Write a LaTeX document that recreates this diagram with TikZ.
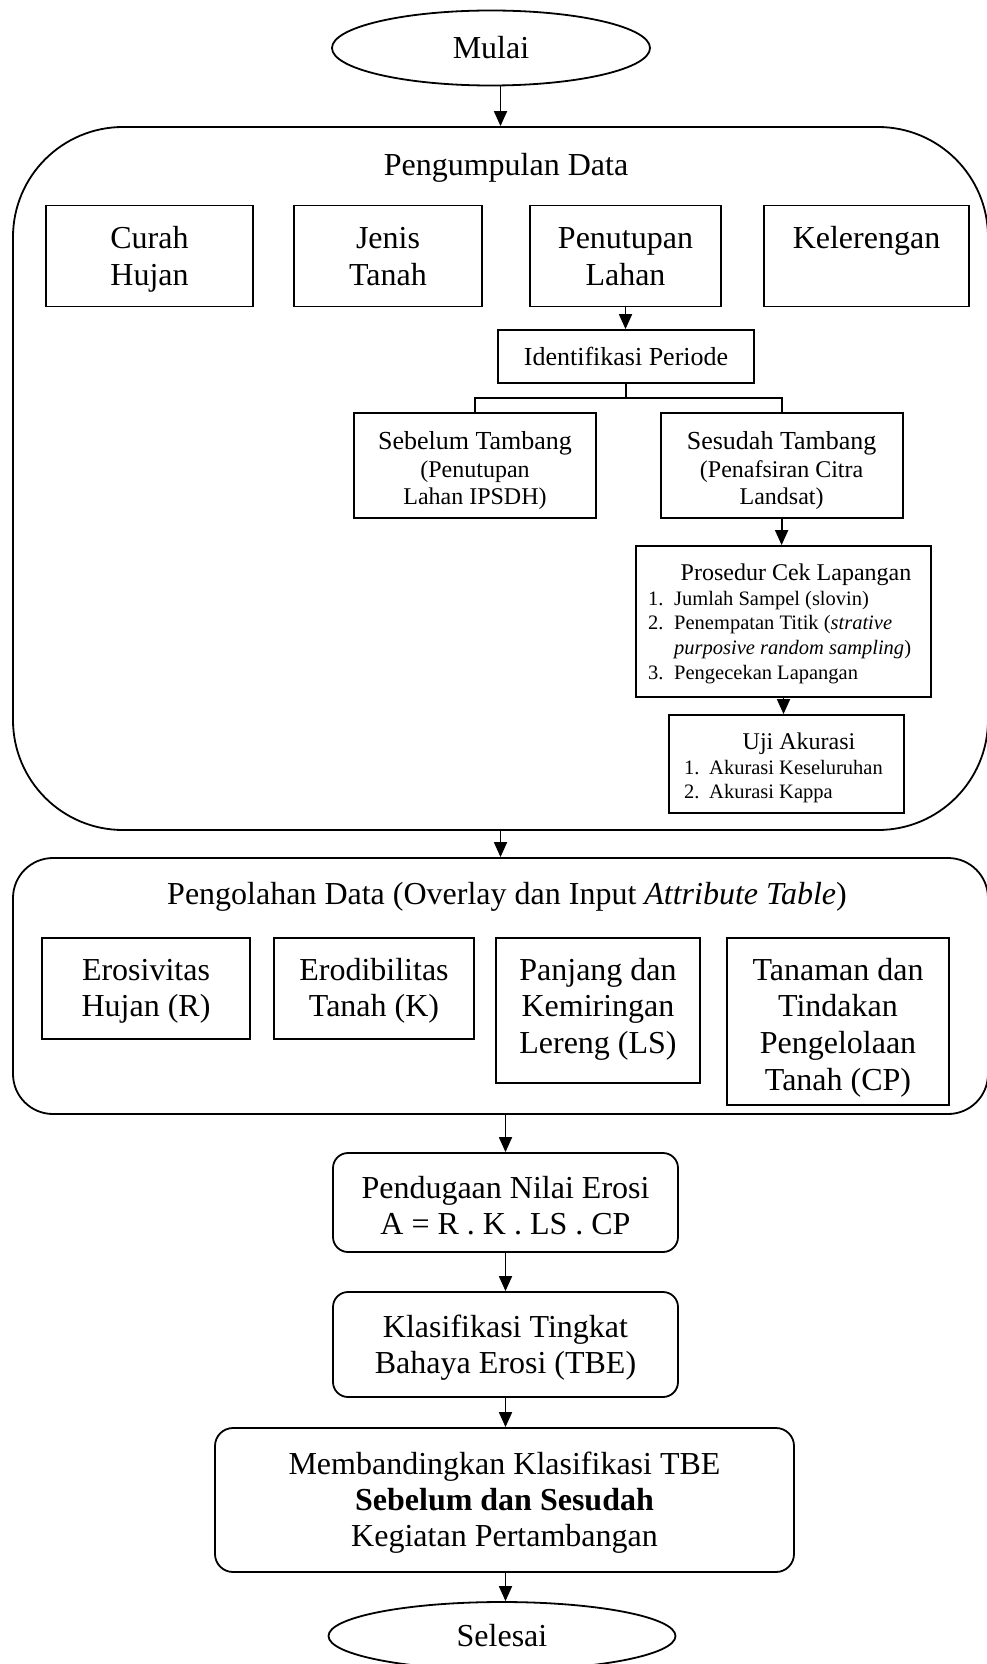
\documentclass[tikz,border=0pt]{standalone}
\usepackage{fontspec}
\setmainfont{Liberation Serif}
\usetikzlibrary{shapes.geometric, arrows.meta}
\newcommand\FsBig{\fontsize{32}{36.7}\selectfont}
\newcommand\FsLow{\fontsize{32}{36}\selectfont}
\newcommand\FsMid{\fontsize{26}{27.5}\selectfont}
\newcommand\FsSm{\fontsize{24}{27.5}\selectfont}
\newcommand\FsList{\fontsize{20.5}{24.8}\selectfont}
\newcommand\LiftTop{\rule{0pt}{28pt}}
\begin{document}
\begin{tikzpicture}[x=1pt,y=-1pt,
  box/.style={draw, line width=1.8pt, inner sep=0pt, align=center},
  txt/.style={inner sep=0pt, align=center, anchor=north},
  arr/.style={line width=1.8pt, -{Triangle[width=13pt,length=15pt]}},
  ln/.style={line width=1.8pt},
  oval/.style={draw, ellipse, line width=1.8pt, inner sep=0pt, font=\FsBig}]
\useasboundingbox (0,0) rectangle (987,1664);

% start
\node[oval, minimum width=318pt, minimum height=75pt] (mulai) at (491,48) {Mulai};

% Pengumpulan Data container
\node[box, rounded corners=110pt, minimum width=975pt, minimum height=703pt] (pd) at (500.5,478.5) {};
\node[font=\FsBig] (pdt) at (506,168) {Pengumpulan Data};

\node[box, minimum width=207pt, minimum height=101pt] (cur) at (149.5,256) {};
\node[box, minimum width=188pt, minimum height=101pt] (jen) at (388,256) {};
\node[box, minimum width=191pt, minimum height=101pt] (pen) at (625.5,256) {};
\node[box, minimum width=205pt, minimum height=101pt] (kel) at (866.5,256) {};
\node[txt, font=\FsBig] (curt) at ([yshift=-18pt]cur.north) {\strut Curah\\Hujan};
\node[txt, font=\FsBig] (jent) at ([yshift=-18pt]jen.north) {\strut Jenis\\Tanah};
\node[txt, font=\FsBig] (pent) at ([yshift=-18pt]pen.north) {\strut Penutupan\\Lahan};
\node[txt, font=\FsBig] (kelt) at ([yshift=-18pt]kel.north) {\strut Kelerengan};

\node[box, font=\FsMid, minimum width=256pt, minimum height=53pt] (idp) at (626,356.5) {Identifikasi Periode};

\node[box, minimum width=242pt, minimum height=105pt] (seb) at (475,465.5) {};
\node[box, minimum width=242pt, minimum height=105pt] (ses) at (781.6,465.5) {};
\node[txt, font=\FsSm] (sebt) at ([yshift=-18.4pt]seb.north)
  {{\FsMid\strut Sebelum Tambang}\\(Penutupan\\Lahan IPSDH)};
\node[txt, font=\FsSm] (sest) at ([yshift=-18.4pt]ses.north)
  {{\FsMid\strut Sesudah Tambang}\\(Penafsiran Citra\\Landsat)};

\node[box, minimum width=295pt, minimum height=151pt] (pro) at (783.5,621.5) {};
\node[font=\FsSm, anchor=base] (prot) at (796,580) {Prosedur Cek Lapangan};
\node[font=\FsList, anchor=base west, inner sep=0pt] (prol) at (648,605)
  {\begin{tabular}[t]{@{}p{26pt}@{}l@{}}
   1. & Jumlah Sampel (slovin)\\
   2. & Penempatan Titik (\textit{strative}\\
      & \textit{purposive random sampling})\\
   3. & Pengecekan Lapangan
   \end{tabular}};

\node[box, minimum width=235pt, minimum height=98pt] (uji) at (786.5,764) {};
\node[font=\FsSm, anchor=base] (ujit) at (799,749) {Uji Akurasi};
\node[font=\FsList, anchor=base west, inner sep=0pt] (ujil) at (684,774)
  {\begin{tabular}[t]{@{}p{25pt}@{}l@{}}
   1. & Akurasi Keseluruhan\\
   2. & Akurasi Kappa
   \end{tabular}};

% Pengolahan Data container
\node[box, rounded corners=40pt, minimum width=975pt, minimum height=256pt] (pg) at (500.5,986) {};
\node[font=\FsBig] (pgt) at (507,897) {Pengolahan Data (Overlay dan Input \textit{Attribute Table})};

\node[box, minimum width=208.5pt, minimum height=101pt] (ero) at (146,988.5) {};
\node[box, minimum width=200pt, minimum height=101pt] (erd) at (374,988.5) {};
\node[box, minimum width=203.5pt, minimum height=145pt] (pan) at (598,1010.5) {};
\node[box, minimum width=222pt, minimum height=167pt] (tan) at (838,1021.5) {};
\node[txt, font=\FsBig] (erot) at ([yshift=-17pt]ero.north) {\strut Erosivitas\\Hujan (R)};
\node[txt, font=\FsBig] (erdt) at ([yshift=-17pt]erd.north) {\strut Erodibilitas\\Tanah (K)};
\node[txt, font=\FsBig] (pant) at ([yshift=-17pt]pan.north) {\strut Panjang dan\\Kemiringan\\Lereng (LS)};
\node[txt, font=\FsBig] (tant) at ([yshift=-17pt]tan.north) {\strut Tanaman dan\\Tindakan\\Pengelolaan\\Tanah (CP)};

% lower chain
\node[box, font=\FsLow, rounded corners=15pt, minimum width=345pt, minimum height=99pt] (pend) at (505.5,1202.5) {\LiftTop Pendugaan Nilai Erosi\\A = R . K . LS . CP};
\node[box, font=\FsLow, rounded corners=15pt, minimum width=345pt, minimum height=105pt] (kla) at (505.5,1344.5) {\LiftTop Klasifikasi Tingkat\\Bahaya Erosi (TBE)};
\node[box, font=\FsLow, rounded corners=18pt, minimum width=579pt, minimum height=144pt] (mem) at (504.5,1500) {\LiftTop Membandingkan Klasifikasi TBE\\\textbf{Sebelum dan Sesudah}\\Kegiatan Pertambangan};
\node[oval, minimum width=347pt, minimum height=68pt] (sel) at (502,1636) {Selesai};

% connectors
\draw[arr] (mulai.south -| pd.north) -- (pd.north);
\draw[arr] (pen.south) -- (pen.south |- idp.north);
\draw[ln] (idp.south) -- ++(0,14) coordinate (brk);
\draw[ln] (seb.north) |- (brk) -| (ses.north);
\draw[arr] (ses.south) -- (ses.south |- pro.north);
\draw[arr] (pro.south) -- (pro.south |- uji.north);
\draw[arr] (pd.south) -- (pd.south |- pg.north);
\draw[arr] (pg.south -| pend.north) -- (pend.north);
\draw[arr] (pend.south) -- (kla.north);
\draw[arr] (kla.south) -- (kla.south |- mem.north);
\draw[arr] (mem.south -| kla.south) -- (sel.north -| kla.south);
\end{tikzpicture}
\end{document}
